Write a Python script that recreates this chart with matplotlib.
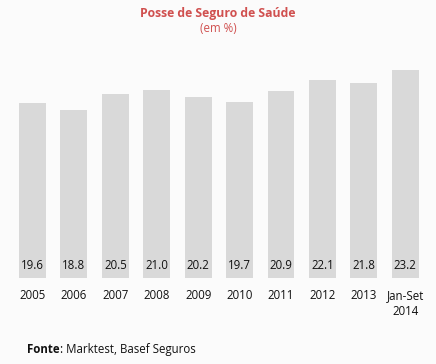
import matplotlib.pyplot as plt

categories = ["2005", "2006", "2007", "2008", "2009", "2010", "2011", "2012", "2013", "Jan-Set\n2014"]
values = [19.6, 18.8, 20.5, 21.0, 20.2, 19.7, 20.9, 22.1, 21.8, 23.2]

plt.rcParams['font.family'] = ['Open Sans', 'DejaVu Sans']

bg = "#FBFBFB"
fig = plt.figure(figsize=(4.36, 3.64), dpi=100, facecolor=bg)
ax = fig.add_axes([0.027, 0.236, 0.95, 0.609])
ax.set_facecolor(bg)

x = list(range(len(values)))
ax.bar(x, values, width=0.65, color="#D9D9D9")

# value labels near the bottom of each bar
for xi, v in zip(x, values):
    ax.text(xi, 1.45, f"{v:.1f}", ha="center", va="center", fontsize=8.3, color="#111111")

ax.set_xlim(-0.5, len(values) - 0.5)
ax.set_ylim(0, 24.75)
ax.set_xticks(x)
ax.set_xticklabels(categories, fontsize=8.3, color="#111111", linespacing=1.25, va="top")
ax.tick_params(axis="x", length=0, pad=8)
ax.set_yticks([])
for s in ax.spines.values():
    s.set_visible(False)

fig.text(0.5, 0.963, "Posse de Seguro de Saúde", ha="center", va="center",
         fontsize=8.8, fontweight="bold", color="#D0504F")
fig.text(0.5, 0.921, "(em %)", ha="center", va="center", fontsize=8.3, color="#D0504F")

t1 = fig.text(0.062, 0.04, "Fonte", ha="left", va="center", fontsize=8.3,
              fontweight="bold", color="#111111")
fig.add_artist(plt.Annotation(": Marktest, Basef Seguros", xy=(1, 0.5), xycoords=t1,
                              ha="left", va="center", fontsize=8.3, color="#111111"))

fig.savefig("out.png", dpi=100, facecolor=bg)
